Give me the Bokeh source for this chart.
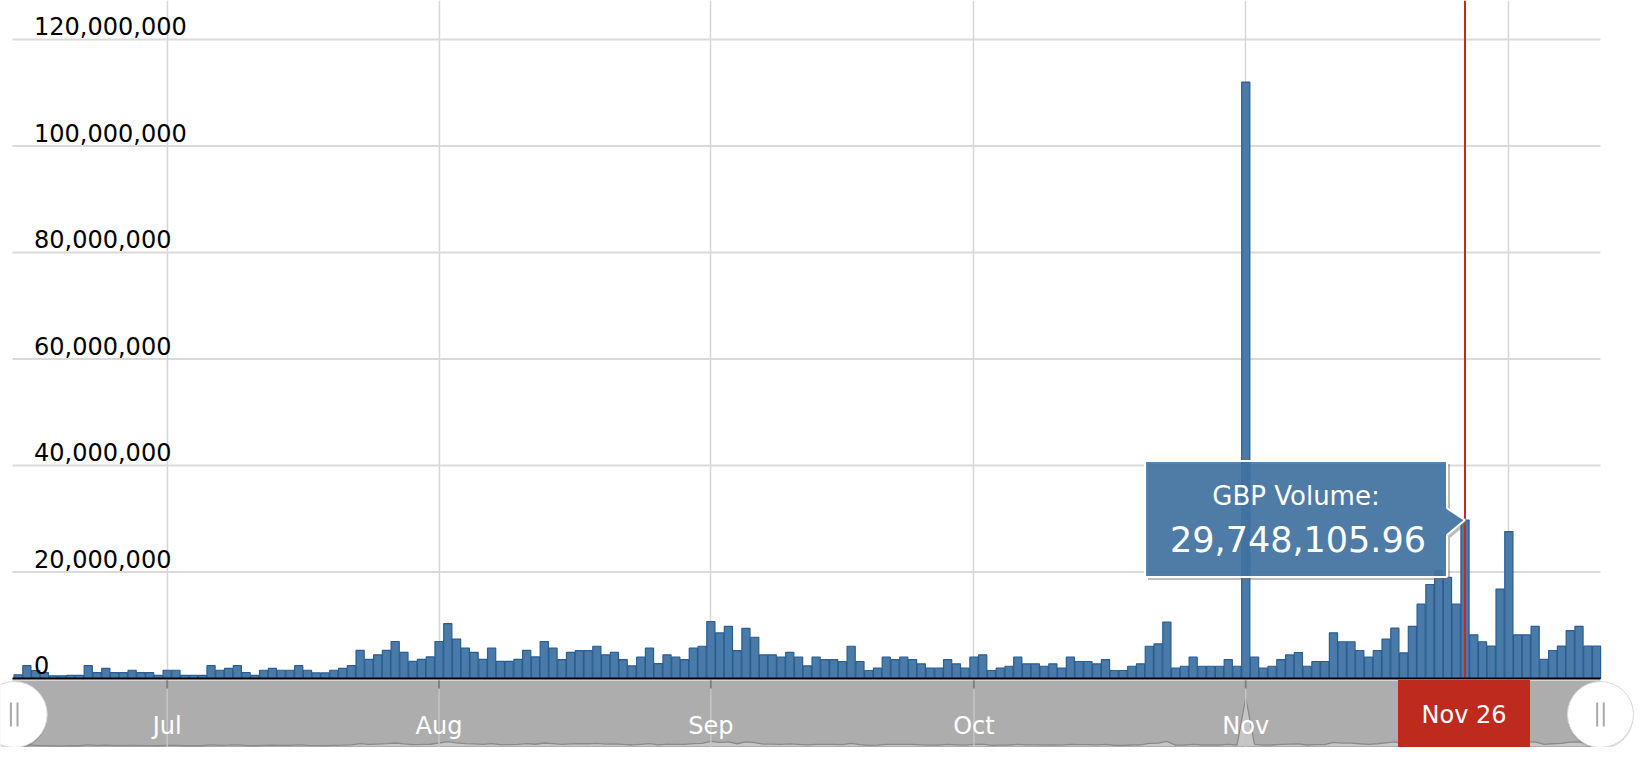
import pandas as pd
from bokeh.plotting import figure
from bokeh.models import Range1d, FixedTicker, ColumnDataSource, Grid
from bokeh.core.properties import value
from bokeh.embed import file_html
from bokeh.resources import INLINE

# ---------------- data ----------------
start_date = "2017-06-14"
gbp_volume = [
    700000, 2400000, 1500000, 1100000, 500000, 500000, 600000, 600000, 2400000, 1100000,
    1900000, 1100000, 1100000, 1550000, 1100000, 1100000, 600000, 1550000, 1550000, 600000,
    600000, 600000, 2400000, 1550000, 1900000, 2400000, 1100000, 600000, 1550000, 1900000,
    1550000, 1550000, 2400000, 1550000, 1050000, 1050000, 1550000, 1900000, 2400000, 5300000,
    3600000, 4450000, 5300000, 6950000, 4900000, 3200000, 3600000, 4050000, 6950000, 10300000,
    7400000, 5700000, 4900000, 3600000, 5700000, 3200000, 3200000, 3600000, 5300000, 4050000,
    6950000, 5700000, 3560000, 4900000, 5250000, 5250000, 6060000, 4440000, 4900000, 3560000,
    2380000, 4000000, 5700000, 2800000, 4440000, 4000000, 3560000, 5700000, 6060000, 10700000,
    8560000, 9800000, 5250000, 9400000, 7750000, 4440000, 4440000, 4000000, 4900000, 4000000,
    2380000, 4000000, 3560000, 3560000, 3190000, 6060000, 3190000, 1500000, 1940000, 4000000,
    3560000, 4000000, 3560000, 2750000, 1940000, 1940000, 3560000, 2750000, 1940000, 4000000,
    4440000, 1500000, 1940000, 2300000, 4000000, 2750000, 2750000, 2300000, 2750000, 1940000,
    4000000, 3190000, 3190000, 2750000, 3560000, 1500000, 1500000, 2300000, 2750000, 6060000,
    6500000, 10600000, 1940000, 2300000, 4000000, 2300000, 2300000, 2300000, 3560000, 2300000,
    112000000, 4000000, 1940000, 2300000, 3560000, 4440000, 4880000, 2300000, 3190000, 3190000,
    8580000, 6900000, 6900000, 5260000, 4000000, 5260000, 7400000, 9450000, 4800000, 9800000,
    13960000, 17650000, 20200000, 19000000, 13960000, 29748105.96, 8200000, 6900000, 6070000, 16800000,
    27600000, 8200000, 8200000, 9800000, 3600000, 5260000, 6070000, 9000000, 9800000, 6070000,
    6070000,
]
month_starts = ["2017-07-01", "2017-08-01", "2017-09-01", "2017-10-01", "2017-11-01", "2017-12-01"]
month_labels = ["Jul", "Aug", "Sep", "Oct", "Nov"]
y_ticks = [0, 20000000, 40000000, 60000000, 80000000, 100000000, 120000000]
y_tick_labels = ["0", "20,000,000", "40,000,000", "60,000,000", "80,000,000", "100,000,000", "120,000,000"]
highlight_date = "2017-11-26"
highlight_label = "Nov 26"
tooltip_title = "GBP Volume:"

# ---------------- geometry (pixels) ----------------
DAY = 86400000
FONT = value("DejaVu Sans")
W, H = 1644, 747
PLOT_L = 12            # left edge of the bar area
PX_PER_DAY = 8.769
BASE_Y = 678           # pixel row of the zero line (from top)
PX_PER_M = 5.325       # main plot pixels per 1,000,000
NAV_TOP = 680          # navigator top (from top)
NAV_BASE = 1.5         # navigator series baseline, px from bottom
NAV_PX_PER_M = 0.43
TXT_FIX = 0.37         # baseline correction, fraction of font size


def up(px, size):
    """screen y offset placing the alphabetic baseline px pixels above the anchor"""
    return -px - TXT_FIX * size


dates = pd.date_range(start_date, periods=len(gbp_volume), freq="D")
dates_ms = (dates.asi8 // 10**6).tolist()
month_ms = (pd.to_datetime(month_starts).asi8 // 10**6).tolist()
hl_ms = int(pd.Timestamp(highlight_date).value // 10**6)
hl_idx = dates_ms.index(hl_ms)
hl_val = gbp_volume[hl_idx]

ms_per_px = DAY / PX_PER_DAY
x_lo = dates_ms[0] - 0.64 * DAY          # left end of plotting area
x_hi = dates_ms[-1] + 0.45 * DAY         # right end of plotting area
x_start = x_lo - PLOT_L * ms_per_px
x_end = x_start + W * ms_per_px
val_per_px = 1e6 / PX_PER_M
y_start = -(H - BASE_Y) * val_per_px
y_end = BASE_Y * val_per_px
NAV_H = H - NAV_TOP

p = figure(width=W, height=H, x_range=Range1d(x_start, x_end), y_range=Range1d(y_start, y_end),
           x_axis_type=None, y_axis_type=None, toolbar_location=None, output_backend="svg",
           min_border=0, outline_line_color=None,
           background_fill_color="white", border_fill_color="white")
p.extra_y_ranges = {
    "navpx": Range1d(0, H),
    "series": Range1d(-NAV_BASE / NAV_PX_PER_M * 1e6, (H - NAV_BASE) / NAV_PX_PER_M * 1e6),
}

# grid
p.add_layout(Grid(dimension=0, ticker=FixedTicker(ticks=month_ms),
                  grid_line_color="#D6D6D6", grid_line_width=1.5))
p.segment(x0=[x_lo] * len(y_ticks), y0=y_ticks, x1=[x_hi] * len(y_ticks), y1=y_ticks,
          line_color="#DADADA", line_width=2)

# bars
src = ColumnDataSource(dict(x=dates_ms, v=gbp_volume))
p.vbar(x="x", top="v", bottom=0, width=0.93 * DAY, source=src,
       fill_color="#4A7AA8", line_color="#295E94", line_width=1.2)

# y labels inside plot
p.text(x=[x_lo] * len(y_ticks), y=y_ticks, text=y_tick_labels, x_offset=21.5, y_offset=up(4.5, 24),
       text_font=FONT, text_font_size="24px", text_color="black",
       text_align="left", text_baseline="alphabetic")

# red crosshair
p.segment(x0=[hl_ms], y0=[0], x1=[hl_ms], y1=[y_end], line_color="#C42B1E", line_width=2)

# tooltip
shape = [(-320, 59), (-18, 59), (-18, 12), (0, 0), (-18, -15), (-18, -57), (-320, -57)]
tx = [hl_ms + dx * ms_per_px for dx, dy in shape]
ty = [hl_val + dy * val_per_px for dx, dy in shape]
sx = [hl_ms + (dx + 3) * ms_per_px for dx, dy in shape]
sy = [hl_val + (dy - 3) * val_per_px for dx, dy in shape]
p.patch(sx, sy, fill_color="#6E6E6E", fill_alpha=0.45, line_color=None)
p.patch(tx, ty, fill_color="#3F73A3", fill_alpha=0.88, line_color="white", line_width=2)
p.text(x=[hl_ms], y=[hl_val], text=[tooltip_title], x_offset=-169, y_offset=up(14, 26),
       text_font=FONT, text_font_size="26px", text_color="white",
       text_align="center", text_baseline="alphabetic")
p.text(x=[hl_ms], y=[hl_val], text=[f"{hl_val:,.2f}"], x_offset=-167, y_offset=up(-32, 35),
       text_font=FONT, text_font_size="35px", text_color="white",
       text_align="center", text_baseline="alphabetic")

# ---------------- navigator ----------------
p.quad(left=[x_lo], right=[x_hi], bottom=[0], top=[NAV_H], y_range_name="navpx",
       fill_color="#ADADAD", line_color=None)
p.varea(x=dates_ms, y1=[0] * len(gbp_volume), y2=gbp_volume, y_range_name="series",
        fill_color="#C6C6C6")
p.line(x=dates_ms, y=gbp_volume, y_range_name="series", line_color="#8A8A8A", line_width=1.3)
p.segment(x0=month_ms, y0=[0] * len(month_ms), x1=month_ms, y1=[NAV_H] * len(month_ms),
          y_range_name="navpx", line_color="#C4C4C4", line_width=1.5)
p.segment(x0=month_ms, y0=[NAV_H] * len(month_ms), x1=month_ms, y1=[NAV_H - 8] * len(month_ms),
          y_range_name="navpx", line_color="#808080", line_width=2)
p.text(x=month_ms[:len(month_labels)], y=[13] * len(month_labels), text=month_labels,
       y_offset=up(0, 24), y_range_name="navpx",
       text_font=FONT, text_font_size="24px", text_color="white",
       text_align="center", text_baseline="alphabetic")

# zero line
p.segment(x0=[x_lo], y0=[0], x1=[x_hi], y1=[0], line_color="black", line_width=2)

# highlighted date label
p.quad(left=[hl_ms - 67 * ms_per_px], right=[hl_ms + 65 * ms_per_px], bottom=[0], top=[NAV_H + 0.5],
       y_range_name="navpx", fill_color="#BE2A1D", line_color=None)
p.text(x=[hl_ms], y=[23.7], text=[highlight_label], x_offset=-1, y_offset=up(0, 24),
       y_range_name="navpx",
       text_font=FONT, text_font_size="24px", text_color="white",
       text_align="center", text_baseline="alphabetic")

# handles
hx = [x_lo + 1.7 * ms_per_px, x_hi]
p.scatter(x=hx, y=[31, 31], size=66, marker="circle", y_range_name="navpx",
          fill_color="black", fill_alpha=0.12, line_color=None)
p.scatter(x=hx, y=[33, 33], size=66, marker="circle", y_range_name="navpx",
          fill_color="white", line_color="#D8D8D8", line_width=1)
gx = []
for h in hx:
    gx += [h - 3.3 * ms_per_px, h + 3.3 * ms_per_px]
p.segment(x0=gx, y0=[21] * len(gx), x1=gx, y1=[45] * len(gx), y_range_name="navpx",
          line_color="#A8A8A8", line_width=2)

open("out.html", "w").write(file_html(p, INLINE))
